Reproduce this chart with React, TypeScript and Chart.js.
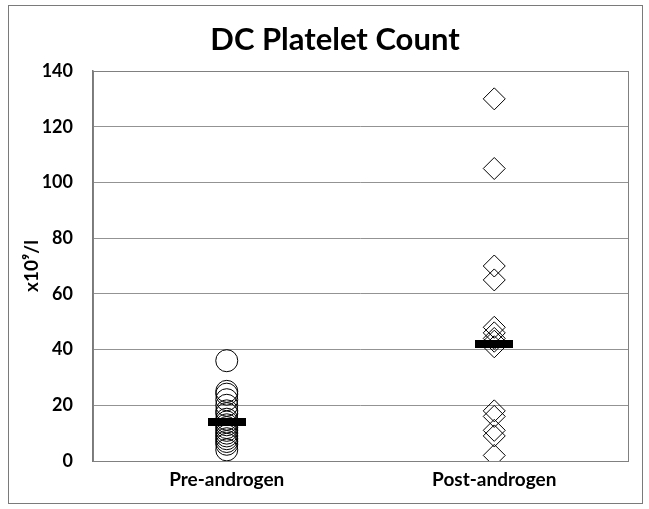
import React, { useEffect, useRef } from 'react';
import { Chart, registerables } from 'chart.js';

Chart.register(...registerables);

const chartTitle = 'DC Platelet Count';
const yAxisTitle = 'x10⁹/l';
const categories = ['Pre-androgen', 'Post-androgen'];
const preAndrogen = [36, 25, 24, 22, 20, 18, 17, 15, 14, 13, 12, 11, 10, 9, 8, 7, 6, 4];
const postAndrogen = [130, 105, 70, 65, 48, 46, 44, 43, 41, 18, 16, 11, 9, 2];
const medians = [14, 42];
const yMin = 0;
const yMax = 140;
const yStep = 20;

const FONT = 'Lato, "Open Sans", sans-serif';

function makeBar(w: number, h: number) {
  const c = document.createElement('canvas');
  c.width = w;
  c.height = h;
  const g = c.getContext('2d')!;
  g.fillStyle = '#000';
  g.fillRect(0, 0, w, h);
  return c;
}

const framePlugin = {
  id: 'frame',
  beforeDraw(chart: any) {
    const { ctx, width, height } = chart;
    ctx.save();
    ctx.fillStyle = '#fff';
    ctx.fillRect(0, 0, width, height);
    ctx.strokeStyle = '#7a7a7a';
    ctx.lineWidth = 1;
    ctx.strokeRect(8.5, 5.5, width - 15, height - 11);
    ctx.restore();
  },
  beforeDatasetsDraw(chart: any) {
    const { ctx, chartArea: a } = chart;
    ctx.save();
    ctx.strokeStyle = '#808080';
    ctx.lineWidth = 1;
    ctx.strokeRect(Math.round(a.left) + 0.5, Math.round(a.top) + 0.5, Math.round(a.right - a.left), Math.round(a.bottom - a.top));
    ctx.restore();
  },
  afterDraw(chart: any) {
    const { ctx } = chart;
    ctx.save();
    ctx.fillStyle = '#000';
    ctx.font = `bold 31px ${FONT}`;
    ctx.textAlign = 'center';
    ctx.textBaseline = 'alphabetic';
    ctx.fillText(chartTitle, 335, 50);
    ctx.restore();
  },
};

export default function App() {
  const ref = useRef<HTMLCanvasElement | null>(null);

  useEffect(() => {
    document.body.style.margin = '0';
    const bar = makeBar(38, 8);
    const chart = new Chart(ref.current!, {
      type: 'scatter',
      data: {
        labels: categories,
        datasets: [
          {
            label: 'Median',
            data: categories.map((c, i) => ({ x: c, y: medians[i] })) as any,
            pointStyle: bar as any,
            pointRadius: 10,
          },
          {
            label: categories[0],
            data: preAndrogen.map((v) => ({ x: categories[0], y: v })) as any,
            pointStyle: 'circle',
            pointRadius: 11,
            borderColor: '#000',
            backgroundColor: 'rgba(0,0,0,0)',
            borderWidth: 1,
          },
          {
            label: categories[1],
            data: postAndrogen.map((v) => ({ x: categories[1], y: v })) as any,
            pointStyle: 'rectRot',
            pointRadius: 11,
            borderColor: '#000',
            backgroundColor: 'rgba(0,0,0,0)',
            borderWidth: 1,
          },
        ],
      },
      options: {
        animation: false,
        responsive: false,
        layout: { padding: { left: 15, right: 21, top: 71, bottom: 18 } },
        plugins: {
          legend: { display: false },
          tooltip: { enabled: false },
          title: { display: false },
        },
        scales: {
          x: {
            type: 'category',
            labels: categories,
            offset: true,
            grid: { display: false, drawTicks: false },
            border: { display: true, color: '#808080', width: 1 },
            ticks: { color: '#000', font: { family: FONT, size: 19, weight: 'bold' }, padding: 7 },
            afterFit: (scale: any) => {
              scale.height = 30;
            },
          },
          y: {
            type: 'linear',
            min: yMin,
            max: yMax,
            grid: { color: '#939393', drawTicks: false },
            border: { display: true, color: '#7a7a7a', width: 1.5 },
            ticks: {
              stepSize: yStep,
              color: '#000',
              padding: 20,
              font: { family: FONT, size: 18, weight: 'bold' },
            },
            title: {
              display: true,
              text: yAxisTitle,
              color: '#000',
              font: { family: FONT, size: 19, weight: 'bold' },
              padding: { top: 5, bottom: 0 },
            },
            afterFit: (scale: any) => {
              scale.width = 78;
            },
          },
        },
      } as any,
      plugins: [framePlugin],
    });
    return () => chart.destroy();
  }, []);

  return (
    <div style={{ width: 649, height: 509 }}>
      <canvas ref={ref} width={649} height={509} style={{ display: 'block' }} />
    </div>
  );
}
